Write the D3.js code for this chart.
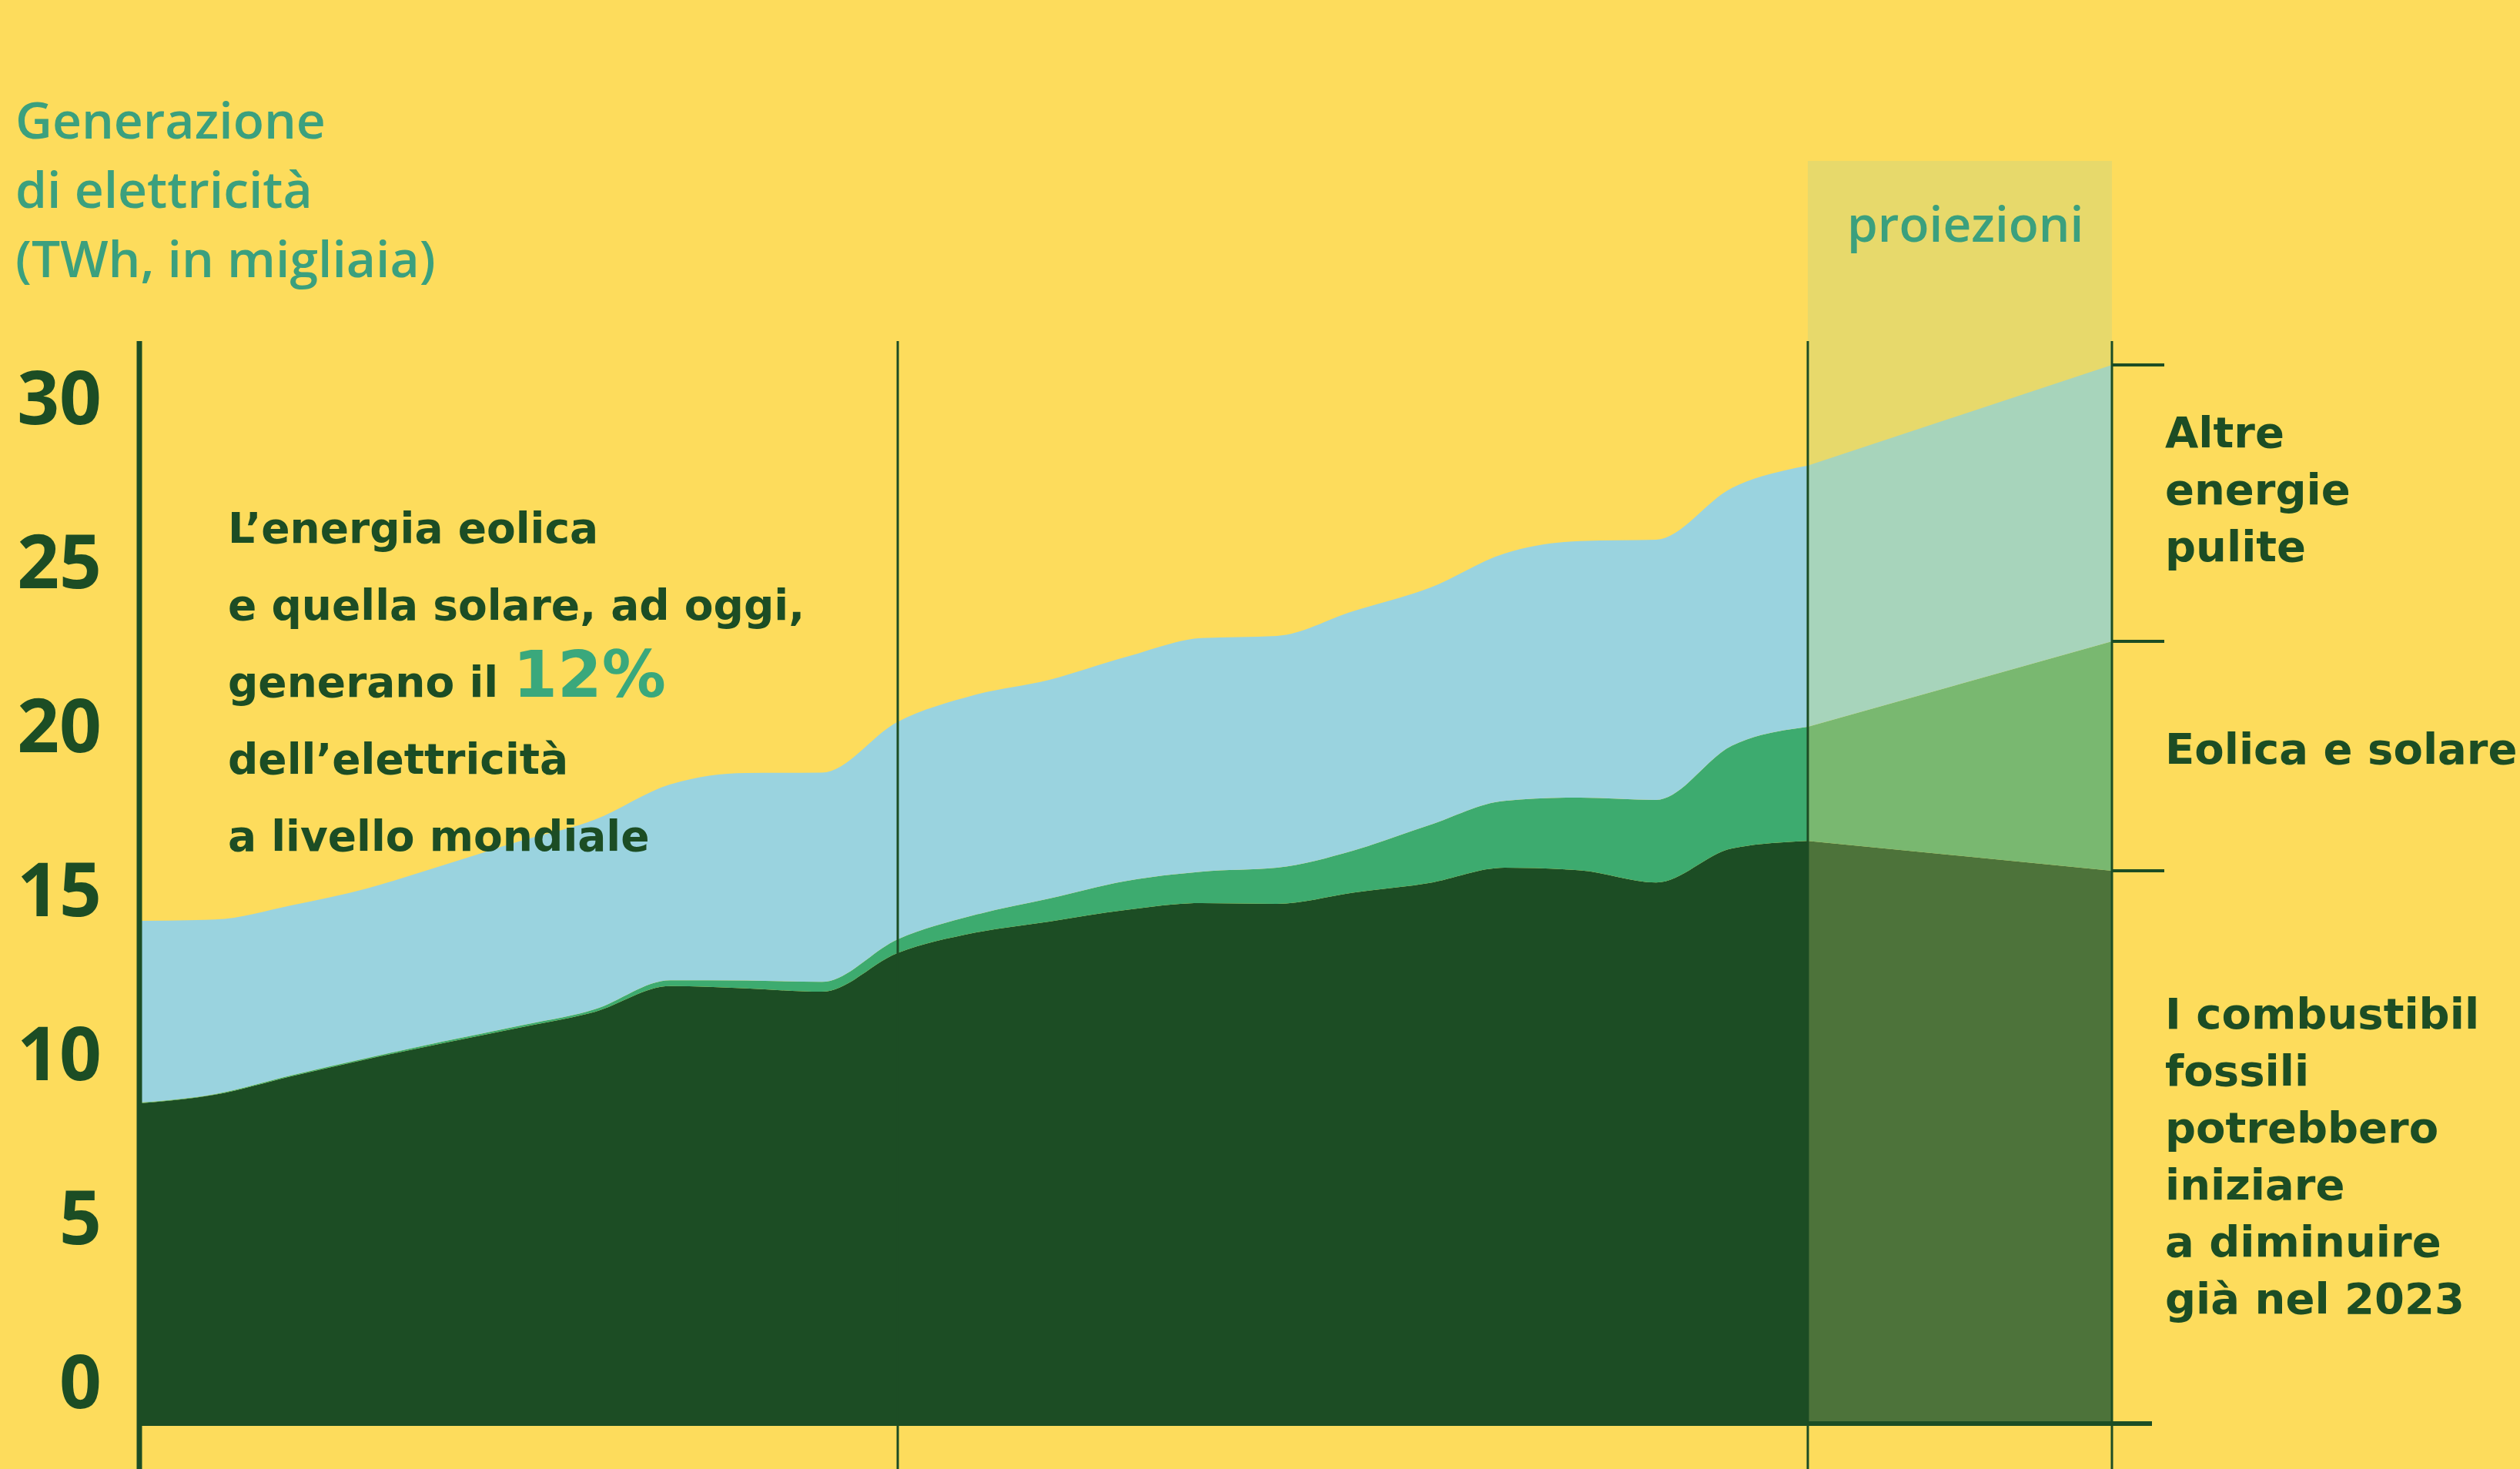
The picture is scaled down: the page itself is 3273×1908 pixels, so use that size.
<!DOCTYPE html>
<head>
  <style>
    body { margin: 0; background: #fddc5c; }
    .axis text { font: 700 96px "Open Sans", sans-serif; fill: #1c4d24; }
    .title { font: 600 66px "Open Sans", sans-serif; fill: #3ba07e; }
    .note { font: bold 55px "DejaVu Sans", sans-serif; fill: #1c4d24; }
    .label { font: bold 56px "DejaVu Sans", sans-serif; fill: #1c4d24; }
  </style>
</head>

<body>
  <script src="https://cdn.jsdelivr.net/npm/d3@7"></script>
  <script>

    // generazione di elettricita, migliaia di TWh (2025 = proiezione)
    var years = [2000, 2001, 2002, 2003, 2004, 2005, 2006, 2007, 2008, 2009, 2010, 2011,
                 2012, 2013, 2014, 2015, 2016, 2017, 2018, 2019, 2020, 2021, 2022, 2025];
    var fossili = [9.72, 9.98, 10.54, 11.06, 11.55, 12.02, 12.50, 13.29, 13.22, 13.12, 14.30, 14.91,
                   15.26, 15.61, 15.82, 15.80, 16.14, 16.43, 16.90, 16.82, 16.45, 17.49, 17.72, 16.81];
    var eolicaSolare = [0.02, 0.02, 0.03, 0.04, 0.05, 0.06, 0.08, 0.18, 0.24, 0.30, 0.42, 0.54,
                        0.70, 0.88, 0.96, 1.10, 1.28, 1.76, 2.04, 2.22, 2.52, 3.13, 3.48, 6.99];
    var altrePulite = [5.54, 5.32, 5.18, 5.17, 5.37, 5.62, 5.78, 5.97, 6.33, 6.38, 6.63, 6.71,
                       6.67, 6.83, 7.12, 7.07, 7.30, 7.23, 7.54, 7.82, 7.93, 7.86, 7.96, 8.43];
    var yTicks = [0, 5, 10, 15, 20, 25, 30];
    var gridYears = [2010, 2022, 2025];
    var lastYear = 2022, projYear = 2025;

    var titleLines = ["Generazione", "di elettricità", "(TWh, in migliaia)"];
    var noteLines = ["L’energia eolica", "e quella solare, ad oggi,", "generano il ", "dell’elettricità", "a livello mondiale"];
    var labelAltre = ["Altre", "energie", "pulite"];
    var labelFossili = ["I combustibil", "fossili", "potrebbero", "iniziare", "a diminuire", "già nel 2023"];

    var width = 3273, height = 1908;
    var top0 = 443;

    var x = d3.scaleLinear()
              .domain([2000, lastYear, projYear])
              .range([181, 2348, 2743]);
    var y = d3.scaleLinear()
              .domain([0, 30])
              .range([1847, 569]);

    var svg = d3.select("body").append("svg")
        .attr("width", width)
        .attr("height", height);

    svg.append("rect")
        .attr("width", width).attr("height", height)
        .attr("fill", "#fddc5c");

    var rows = years.map(function(yr, i) {
      return {year: yr, fossili: fossili[i], eolica: eolicaSolare[i], altre: altrePulite[i]};
    });
    var keys = ["fossili", "eolica", "altre"];
    var series = d3.stack().keys(keys)(rows);

    var colors = {fossili: "#1c4d24", eolica: "#3dab6f", altre: "#9ad3df"};
    var projColors = {fossili: "#4d733a", eolica: "#79b870", altre: "#a7d4bb"};

    // fascia proiezioni
    svg.append("rect")
        .attr("x", x(lastYear))
        .attr("y", 209)
        .attr("width", x(projYear) - x(lastYear))
        .attr("height", y(0) - 209)
        .attr("fill", "#e7d96b");

    var areaHist = d3.area()
        .curve(d3.curveMonotoneX)
        .x(function(d) { return x(d.data.year); })
        .y0(function(d) { return y(d[0]); })
        .y1(function(d) { return y(d[1]); });
    var areaProj = d3.area()
        .x(function(d) { return x(d.data.year); })
        .y0(function(d) { return y(d[0]); })
        .y1(function(d) { return y(d[1]); });

    svg.selectAll(".hist")
        .data(series)
      .enter().append("path")
        .attr("class", "hist")
        .attr("fill", function(s) { return colors[s.key]; })
        .attr("d", function(s) { return areaHist(s.filter(function(d) { return d.data.year <= lastYear; })); });

    svg.selectAll(".proj")
        .data(series)
      .enter().append("path")
        .attr("class", "proj")
        .attr("fill", function(s) { return projColors[s.key]; })
        .attr("d", function(s) { return areaProj(s.filter(function(d) { return d.data.year >= lastYear; })); });

    // linee verticali
    svg.selectAll(".grid")
        .data(gridYears)
      .enter().append("line")
        .attr("x1", function(d) { return x(d); })
        .attr("x2", function(d) { return x(d); })
        .attr("y1", top0).attr("y2", height)
        .attr("stroke", "#1c4d24")
        .attr("stroke-width", 3);

    svg.append("line")
        .attr("x1", x(2000)).attr("x2", x(2000))
        .attr("y1", top0).attr("y2", height)
        .attr("stroke", "#1c4d24")
        .attr("stroke-width", 7);

    svg.append("line")
        .attr("x1", x(2000) - 3).attr("x2", x(projYear) + 52)
        .attr("y1", y(0) + 2).attr("y2", y(0) + 2)
        .attr("stroke", "#1c4d24")
        .attr("stroke-width", 6);

    // tacche a destra sui valori finali
    var last = series.map(function(s) { return s[s.length - 1][1]; });
    svg.selectAll(".rtick")
        .data(last)
      .enter().append("line")
        .attr("x1", x(projYear)).attr("x2", x(projYear) + 68)
        .attr("y1", function(d) { return y(d); })
        .attr("y2", function(d) { return y(d); })
        .attr("stroke", "#1c4d24")
        .attr("stroke-width", 4);

    // asse y
    var yAxis = svg.append("g")
        .attr("class", "axis")
        .attr("transform", "translate(" + x(2000) + ",0)")
        .call(d3.axisLeft(y).tickValues(yTicks).tickSize(0).tickPadding(49));
    yAxis.select(".domain").remove();
    yAxis.selectAll("text").attr("y", -49);

    // titolo
    svg.selectAll(".title")
        .data(titleLines)
      .enter().append("text")
        .attr("class", "title")
        .attr("x", 20)
        .attr("y", function(d, i) { return 180 + i * 90; })
        .text(function(d) { return d; });

    svg.append("text")
        .attr("class", "title")
        .attr("x", 2399)
        .attr("y", 314)
        .style("font-size", "64px")
        .text("proiezioni");

    // nota
    var note = svg.selectAll(".note")
        .data(noteLines)
      .enter().append("text")
        .attr("class", "note")
        .attr("x", 296)
        .attr("y", function(d, i) { return 705 + i * 100; })
        .text(function(d) { return d; });
    note.filter(function(d, i) { return i === 2; })
      .append("tspan")
        .style("font-size", "83px")
        .style("fill", "#3aa87c")
        .text("12%");

    // etichette a destra
    svg.selectAll(".altre")
        .data(labelAltre)
      .enter().append("text")
        .attr("class", "label")
        .attr("x", 2812)
        .attr("y", function(d, i) { return 581 + i * 74; })
        .text(function(d) { return d; });

    svg.append("text")
        .attr("class", "label")
        .attr("x", 2812)
        .attr("y", 992)
        .text("Eolica e solare");

    svg.selectAll(".fossili")
        .data(labelFossili)
      .enter().append("text")
        .attr("class", "label")
        .attr("x", 2812)
        .attr("y", function(d, i) { return 1336 + i * 74; })
        .text(function(d) { return d; });

  </script>
</body>
